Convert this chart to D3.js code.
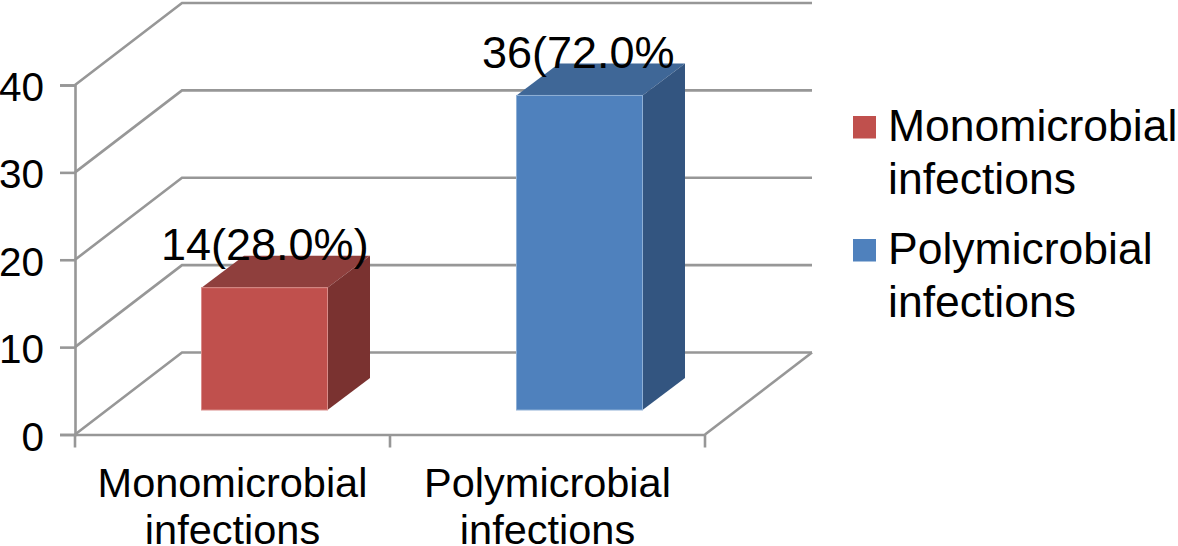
<!DOCTYPE html>
<html>
<head>
<meta charset="utf-8">
<script src="https://cdn.jsdelivr.net/npm/d3@7"></script>
<style>
html, body { margin: 0; padding: 0; background: white; overflow: hidden; }
svg { display: block; }
text { font-family: "Liberation Sans", Arial, sans-serif; fill: black; }
</style>
</head>
<body>
<svg id="chart" width="1178" height="546"></svg>
<script>
const categories = ["Monomicrobial infections", "Polymicrobial infections"];
const values = [14, 36];
const barLabels = ["14(28.0%)", "36(72.0%"];
const yTicks = [0, 10, 20, 30, 40];
const frontColors = ["#c0504d", "#4f81bd"];
const topColors = ["#8f3f3d", "#3f6797"];
const sideColors = ["#7a3230", "#335580"];
const edgeColors = ["#d98c89", "#8fb0d6"];

const gridColor = "#979797";

let svg = d3.select("#chart");

// --------------- SCALES --------------------
const y = d3.scaleLinear().domain([0, 40]).range([434.5, 85]);
const x = d3.scaleBand().domain(categories).range([75, 705]);

// wall depth, and how far in the bars stand from the front edge
const depthX = 107, depthY = 82;
const barInX = 32, barInY = 24.5;
const barW = 126, barDepthX = 42.5, barDepthY = 32;

// --------------- WALLS --------------------
let wall = svg.append("g");

wall.selectAll("polyline")
    .data(yTicks)
    .enter()
    .append("polyline")
    .attr("fill", "none")
    .attr("stroke", gridColor)
    .attr("stroke-width", 2.6)
    .attr("points", function(d){
        return [[x.range()[0], y(d)],
                [x.range()[0] + depthX, y(d) - depthY],
                [x.range()[1] + depthX, y(d) - depthY]].join(" ");
    });

// floor right edge
wall.append("line")
    .attr("x1", x.range()[1]).attr("y1", y(0))
    .attr("x2", x.range()[1] + depthX).attr("y2", y(0) - depthY)
    .attr("stroke", gridColor)
    .attr("stroke-width", 2.6);

// --------------- AXES --------------------
let yAxis = svg.append("g")
    .attr("transform", "translate(" + x.range()[0] + ",0)")
    .call(d3.axisLeft(y).tickValues(yTicks).tickSize(15).tickPadding(16));

let xAxis = svg.append("g")
    .attr("transform", "translate(0," + y(0) + ")")
    .call(d3.axisBottom(x).tickValues([]).tickSize(0));

// band edges get the tick marks, labels sit under the band centre
svg.append("g").selectAll("line")
    .data([x.range()[0], x.range()[0] + x.step(), x.range()[1]])
    .enter()
    .append("line")
    .attr("x1", function(d){ return d; })
    .attr("x2", function(d){ return d; })
    .attr("y1", y(0))
    .attr("y2", y(0) + 13)
    .attr("stroke", gridColor)
    .attr("stroke-width", 2.6);

svg.selectAll(".domain, .tick line")
    .attr("stroke", gridColor)
    .attr("stroke-width", 2.6);

yAxis.selectAll("text")
    .attr("font-size", 40.5)
    .attr("font-family", "Liberation Sans")
    .attr("fill", "black")
    .attr("dy", 15.5);

// --------------- BARS --------------------
function barLeft(i){
    return x(categories[i]) + x.bandwidth() / 2 + barInX - barW / 2;
}

let bars = svg.append("g").selectAll("g")
    .data(values)
    .enter()
    .append("g");

// top face
bars.append("polygon")
    .attr("fill", function(d, i){ return topColors[i]; })
    .attr("points", function(d, i){
        let l = barLeft(i), t = y(d) - barInY;
        return [[l, t], [l + barW, t], [l + barW + barDepthX, t - barDepthY], [l + barDepthX, t - barDepthY]].join(" ");
    });

// side face
bars.append("polygon")
    .attr("fill", function(d, i){ return sideColors[i]; })
    .attr("points", function(d, i){
        let r = barLeft(i) + barW, t = y(d) - barInY, b = y(0) - barInY;
        return [[r, t], [r + barDepthX, t - barDepthY], [r + barDepthX, b - barDepthY], [r, b]].join(" ");
    });

// front face
bars.append("rect")
    .attr("x", function(d, i){ return barLeft(i); })
    .attr("y", function(d){ return y(d) - barInY; })
    .attr("width", barW)
    .attr("height", function(d){ return y(0) - y(d); })
    .attr("fill", function(d, i){ return frontColors[i]; })
    .attr("stroke", function(d, i){ return edgeColors[i]; })
    .attr("stroke-width", 1);

// bar labels, drawn over the bars
const labelX = [161, 482];
const labelY = [260, 68];
svg.append("g").selectAll("text")
    .data(barLabels)
    .enter()
    .append("text")
    .attr("x", function(d, i){ return labelX[i]; })
    .attr("y", function(d, i){ return labelY[i]; })
    .attr("font-size", 45)
    .text(function(d){ return d; });

// --------------- CATEGORY LABELS --------------------
let catLabels = svg.append("g").selectAll("text")
    .data(categories)
    .enter()
    .append("text")
    .attr("text-anchor", "middle")
    .attr("font-size", 41.5);

catLabels.append("tspan")
    .attr("x", function(d){ return x(d) + x.bandwidth() / 2; })
    .attr("y", 496.5)
    .text(function(d){ return d.split(" ")[0]; });

catLabels.append("tspan")
    .attr("x", function(d){ return x(d) + x.bandwidth() / 2; })
    .attr("y", 544)
    .text(function(d){ return d.split(" ")[1]; });

// --------------- LEGEND --------------------
const legendTop = [116, 239];
let legend = svg.append("g").selectAll("g")
    .data(categories)
    .enter()
    .append("g")
    .attr("transform", function(d, i){ return "translate(853," + legendTop[i] + ")"; });

legend.append("rect")
    .attr("width", 23)
    .attr("height", 22.5)
    .attr("fill", function(d, i){ return frontColors[i]; });

let legendText = legend.append("text").attr("font-size", 44.5);

legendText.append("tspan")
    .attr("x", 35)
    .attr("y", 25)
    .text(function(d){ return d.split(" ")[0]; });

legendText.append("tspan")
    .attr("x", 35)
    .attr("y", 77.5)
    .text(function(d){ return d.split(" ")[1]; });
</script>
</body>
</html>
